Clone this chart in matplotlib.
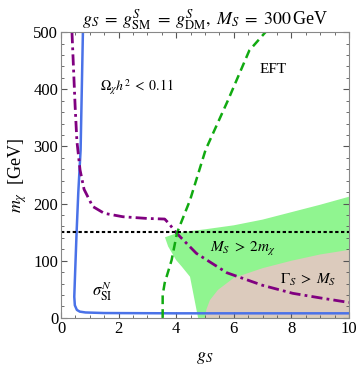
import matplotlib
matplotlib.use("Agg")
import matplotlib.pyplot as plt
from matplotlib.ticker import MultipleLocator

plt.rcParams['font.family'] = 'Liberation Serif'
plt.rcParams['mathtext.fontset'] = 'stix'

# direct detection bound (sigma_SI^N)
blue_x = [0.76, 0.68, 0.60, 0.54, 0.49, 0.46, 0.48, 0.55, 0.65, 0.85, 1.5, 4.0, 10.0]
blue_y = [500, 294, 220, 149, 80, 37, 22, 14, 11, 9.5, 8.5, 8, 8]

# relic density curve
relic_x = [0.38, 0.49, 0.55, 0.66, 0.8, 1.1, 1.5, 2.15, 3.0, 3.6, 3.75, 4.0, 4.7, 5.76, 7.0, 8.05, 9.0, 10.0]
relic_y = [500, 370, 310, 259, 225, 195, 183, 177, 174, 173, 165, 149, 113, 79, 57, 43, 35, 27]

# EFT validity
eft_x = [3.53, 3.53, 3.6, 3.84, 4.03, 4.48, 5.02, 5.8, 6.54, 7.1]
eft_y = [0, 40, 61, 101, 149, 206, 294, 381, 468, 500]

# M_S > 2 m_chi region
green_x = [3.61, 4.0, 4.5, 5.0, 6.0, 7.0, 8.0, 9.0, 10.0, 10.0, 4.76, 4.48, 4.19, 4.0, 3.72, 3.61]
green_y = [141, 148, 152, 155, 162, 172, 185, 198, 212, 0, 0, 72, 90, 101, 125, 141]

# Gamma_S > M_S region
tan_x = [5.0, 5.05, 5.17, 5.45, 6.0, 7.0, 8.0, 9.0, 10.0, 10.0]
tan_y = [0, 15, 31, 49, 70, 87, 100, 111, 119, 0]

fig = plt.figure(figsize=(3.59, 3.74), dpi=100)
ax = fig.add_axes([0.17, 0.150, 0.802, 0.764])

ax.fill(green_x, green_y, color='#90f590', lw=0)
ax.fill(tan_x, tan_y, color='#dccbbd', lw=0)

ax.plot(blue_x, blue_y, color='#4a72e8', lw=1.8)
ax.plot(relic_x, relic_y, color='#800080', lw=2, linestyle=(0, (4, 1.5, 1, 1.5)))
ax.plot(eft_x, eft_y, color='#11aa11', lw=1.8, linestyle=(0, (3.5, 2)))
ax.axhline(150, color='black', lw=1.5, linestyle=(0, (1.6, 1.2)))

ax.text(2.64, 404, r'$\Omega_\chi h^2 \;<\; 0.11$', fontsize=10, ha='center', va='center')
ax.text(7.35, 435, 'EFT', fontsize=11, ha='center', va='center')
ax.text(6.32, 120, r'$M_S \;>\; 2m_\chi$', fontsize=11, ha='center', va='center')
ax.text(8.58, 66, r'$\Gamma_S \;>\; M_S$', fontsize=11, ha='center', va='center')
ax.text(1.42, 47, r'$\sigma^N_{\rm SI}$', fontsize=12, ha='center', va='center')

ax.set_xlim(0, 10)
ax.set_ylim(0, 500)
ax.xaxis.set_major_locator(MultipleLocator(2))
ax.xaxis.set_minor_locator(MultipleLocator(0.5))
ax.yaxis.set_major_locator(MultipleLocator(100))
ax.yaxis.set_minor_locator(MultipleLocator(20))
ax.tick_params(which='both', direction='in', top=True, right=True, color='#555555', labelsize=12, pad=2)
ax.tick_params(which='major', length=4)
ax.tick_params(which='minor', length=2)
for s in ax.spines.values():
    s.set_color('#888888')

ax.set_xlabel(r'$g_S$', fontsize=13, labelpad=9)
ax.set_ylabel(r'$m_\chi$  [GeV]', fontsize=13, labelpad=3)
ax.set_title(r'$g_S \;=\; g^S_{\rm SM} \;=\; g^S_{\rm DM},\; M_S \;=\; 300\,$GeV', fontsize=13, pad=5)

fig.savefig('out.png', dpi=100)
